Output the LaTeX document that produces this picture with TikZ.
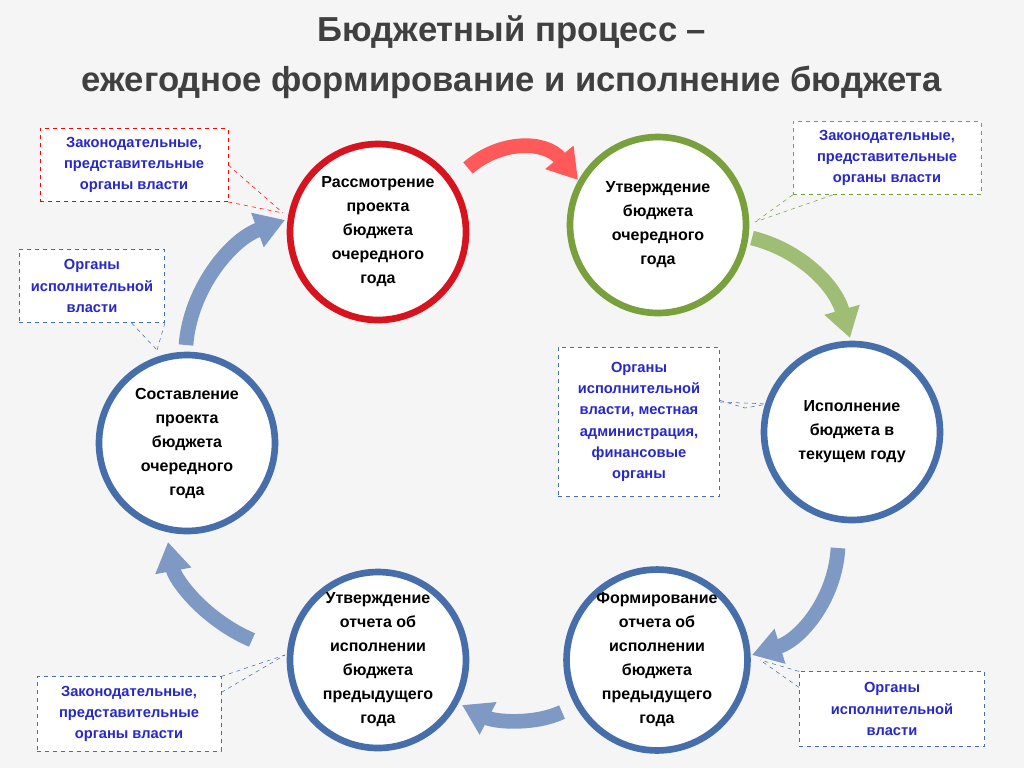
\documentclass[tikz,border=0pt]{standalone}
\usepackage{fontspec}
\setmainfont{Liberation Sans}
\usetikzlibrary{arrows.meta}
\definecolor{bluetxt}{RGB}{40,40,200}
\definecolor{ringblue}{RGB}{70,110,170}
\definecolor{ringred}{RGB}{215,20,30}
\definecolor{ringgreen}{RGB}{120,160,60}
\begin{document}
\begin{tikzpicture}[x=0.75pt,y=-0.75pt,
  ring/.style={circle,draw=#1,line width=5pt,fill=white,minimum size=132pt,inner sep=0pt,align=center,font=\bfseries\fontsize{12}{18}\selectfont,text=black},
  lbl/.style={draw=#1,dashed,fill=white,align=center,font=\bfseries\fontsize{11}{16}\selectfont,text=bluetxt,inner sep=4pt},
  ptr/.style={draw=#1,dashed,thin},
  barrow/.style={draw=#1,line width=11pt,-{Triangle[length=22pt,width=26pt]}}]
\useasboundingbox[fill=gray!8] (0,0) rectangle (1024,768);
% title
\node[font=\bfseries\fontsize{26}{30}\selectfont,text=black!75] (t1) at (512,32) {Бюджетный процесс –};
\node[font=\bfseries\fontsize{26}{30}\selectfont,text=black!75] (t2) at (512,82) {ежегодное формирование и исполнение бюджета};
% arrows
\draw[barrow=red!65] (468,168) .. controls (500,140) and (545,140) .. (578,180);
\draw[barrow=ringgreen!70] (752,238) .. controls (800,250) and (835,285) .. (850,338);
\draw[barrow=ringblue!70] (838,548) .. controls (835,600) and (800,640) .. (752,655);
\draw[barrow=ringblue!70] (562,712) .. controls (535,725) and (495,722) .. (462,705);
\draw[barrow=ringblue!70] (252,640) .. controls (205,620) and (175,580) .. (168,542);
\draw[barrow=ringblue!70] (186,345) .. controls (190,290) and (230,240) .. (285,220);
% circles
\node[ring=ringred] (c1) at (378,232) {Рассмотрение\\проекта\\бюджета\\очередного\\года};
\node[ring=ringgreen] (c2) at (658,225) {Утверждение\\бюджета\\очередного\\года};
\node[ring=ringblue] (c3) at (852,432) {Исполнение\\бюджета в\\текущем году};
\node[ring=ringblue] (c4) at (657,660) {Формирование\\отчета об\\исполнении\\бюджета\\предыдущего\\года};
\node[ring=ringblue] (c5) at (378,660) {Утверждение\\отчета об\\исполнении\\бюджета\\предыдущего\\года};
\node[ring=ringblue] (c6) at (187,443) {Составление\\проекта\\бюджета\\очередного\\года};
% labels
\node[lbl=red,minimum width=141pt,minimum height=55pt] (l1) at (134,165) {Законодательные,\\представительные\\органы власти};
\node[lbl=ringblue,minimum width=109pt,minimum height=55pt] (l2) at (92,286) {Органы\\исполнительной\\власти};
\node[lbl=ringgreen,minimum width=141pt,minimum height=55pt] (l3) at (887,158) {Законодательные,\\представительные\\органы власти};
\node[lbl=ringblue,minimum width=121pt,minimum height=112pt] (l4) at (639,422) {Органы\\исполнительной\\власти, местная\\администрация,\\финансовые\\органы};
\node[lbl=ringblue,minimum width=138pt,minimum height=56pt] (l5) at (129,714) {Законодательные,\\представительные\\органы власти};
\node[lbl=ringblue,minimum width=139pt,minimum height=56pt] (l6) at (892,709) {Органы\\исполнительной\\власти};
\coordinate (p1) at (283,213);
\coordinate (p2) at (157,350);
\coordinate (p3) at (755,222);
\coordinate (p4a) at (745,408);
\coordinate (p4) at (768,404);
\coordinate (p5) at (285,655);
\coordinate (p6) at (760,660);
\draw[ptr=red] (l1.east) -- (p1);
\draw[ptr=red] (l1.south east) -- (p1);
\draw[ptr=ringblue] (l2.south east) -- (p2);
\draw[ptr=ringblue] ([xshift=-25pt]l2.south east) -- (p2);
\draw[ptr=ringgreen] (l3.south west) -- (p3);
\draw[ptr=ringgreen] ([xshift=30pt]l3.south west) -- (p3);
\draw[ptr=ringblue] ([yshift=-40pt]l4.north east) -- (p4a) -- (p4);
\draw[ptr=ringblue] ([yshift=15pt]l4.east) -- (p4);
\draw[ptr=ringblue] (l5.north east) -- (p5);
\draw[ptr=ringblue] ([yshift=-12pt]l5.north east) -- (p5);
\draw[ptr=ringblue] (l6.north west) -- (p6);
\draw[ptr=ringblue] ([yshift=-12pt]l6.north west) -- (p6);
\end{tikzpicture}
\end{document}
